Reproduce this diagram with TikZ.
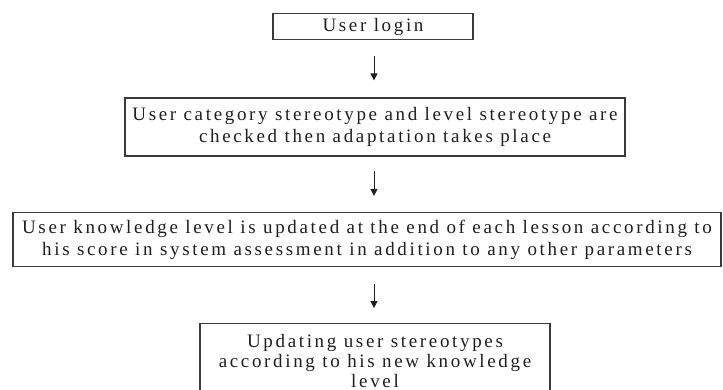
\documentclass[tikz,border=0pt]{standalone}
\usepackage{fontspec}
\setmainfont{Liberation Serif}[LetterSpace=14]
\usetikzlibrary{arrows.meta}
\definecolor{frame}{HTML}{3A3A3A}
\definecolor{ink}{HTML}{1E1E1E}
\tikzset{
  stepbox/.style={draw=frame, line width=1.2pt, align=center, text=ink,
    font=\fontsize{19}{22}\selectfont, inner sep=0pt},
  flow/.style={draw=ink, line width=0.9pt, -{Triangle[length=7pt,width=7pt]}}
}
\begin{document}
\begin{tikzpicture}[x=1pt,y=-1pt]
\useasboundingbox (0,0) rectangle (723,390);
% process boxes
\node[stepbox, minimum width=200pt, minimum height=26pt] (login) at (373,26.5) {User login};
\node[stepbox, minimum width=500pt, minimum height=58pt] (check) at (375,127)
  {User category stereotype and level stereotype are\\checked then adaptation takes place};
\node[stepbox, minimum width=708pt, minimum height=54pt] (update) at (367,239.5)
  {User knowledge level is updated at the end of each lesson according to\\his score in system assessment in addition to any other parameters};
\node[stepbox, font=\fontsize{19}{20}\selectfont, minimum width=350pt, minimum height=74pt, anchor=north] (stereo) at (375,323)
  {Updating user stereotypes\\according to his new knowledge\\level};
% arrows between steps
\coordinate (a1) at (374,0);
\draw[flow, shorten <=16pt, shorten >=17pt] (login.south -| a1) -- (check.north -| a1);
\draw[flow, shorten <=14pt, shorten >=16pt] (check.south -| a1) -- (update.north -| a1);
\draw[flow, shorten <=17pt, shorten >=15pt] (update.south -| a1) -- (stereo.north -| a1);
\end{tikzpicture}
\end{document}
